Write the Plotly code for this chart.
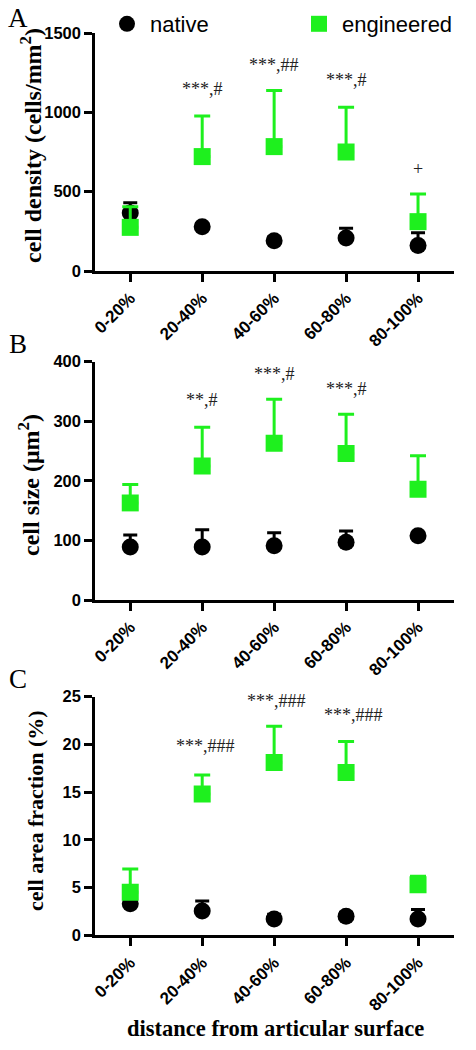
import plotly.graph_objects as go

W, H = 476, 1050

categories = ["0-20%", "20-40%", "40-60%", "60-80%", "80-100%"]

# Panel A: cell density (cells/mm^2)
a_native_mean = [365, 279, 191, 208, 160]
a_native_upper = [430, 300, 215, 269, 241]
a_eng_mean = [275, 721, 784, 750, 311]
a_eng_upper = [405, 977, 1137, 1032, 485]
a_sig_text = ["***,#", "***,##", "***,#", "+"]
a_sig_cat = ["20-40%", "40-60%", "60-80%", "80-100%"]
a_sig_y = [1147, 1299, 1204, 643]

# Panel B: cell size (um^2)
b_native_mean = [89, 89, 91, 97, 108]
b_native_upper = [109, 118, 113, 116, 113]
b_eng_mean = [163, 225, 263, 246, 186]
b_eng_upper = [194, 290, 337, 312, 242]
b_sig_text = ["**,#", "***,#", "***,#"]
b_sig_cat = ["20-40%", "40-60%", "60-80%"]
b_sig_y = [335, 379, 354]

# Panel C: cell area fraction (%)
c_native_mean = [3.3, 2.55, 1.7, 2.0, 1.7]
c_native_upper = [3.9, 3.6, 2.2, 2.4, 2.7]
c_eng_mean = [4.5, 14.8, 18.1, 17.05, 5.3]
c_eng_upper = [6.95, 16.8, 21.9, 20.3, 6.2]
c_sig_text = ["***,###", "***,###", "***,###"]
c_sig_cat = ["20-40%", "40-60%", "60-80%"]
c_sig_y = [19.85, 24.6, 23.1]

GREEN = "#1ef01e"
BLACK = "#000000"

def py(p):
    return 1 - p / H

def px(p):
    return p / W

panels = [
    dict(nm=a_native_mean, nu=a_native_upper, em=a_eng_mean, eu=a_eng_upper,
         st=a_sig_text, sc=a_sig_cat, sy=a_sig_y, top=33, bot=271, rng=[0, 1500], dt=500,
         title="cell density (cells/mm<sup>2</sup>)", letter="A", ly=18, tx=31, ts=24,
         tyc=146, xs=[0, 0, 0, 0]),
    dict(nm=b_native_mean, nu=b_native_upper, em=b_eng_mean, eu=b_eng_upper,
         st=b_sig_text, sc=b_sig_cat, sy=b_sig_y, top=361.7, bot=600, rng=[0, 400], dt=100,
         title="cell size (\u03bcm<sup>2</sup>)", letter="B", ly=344, tx=29, ts=24,
         tyc=485, xs=[0, 0, 0]),
    dict(nm=c_native_mean, nu=c_native_upper, em=c_eng_mean, eu=c_eng_upper,
         st=c_sig_text, sc=c_sig_cat, sy=c_sig_y, top=696.7, bot=935.3, rng=[0, 25], dt=5,
         title="cell area fraction (%)", letter="C", ly=679, tx=35, ts=22,
         tyc=811, xs=[3, 2, 7]),
]

fig = go.Figure()
annotations = []
tickfont = dict(family="Liberation Sans, Arial", size=16.5, color="black", weight="bold")
xtickfont = dict(family="Liberation Sans, Arial", size=17, color="black", weight="bold")
serif = "Liberation Serif, Times New Roman"

for i, p in enumerate(panels):
    k = "" if i == 0 else str(i + 1)
    xa, ya = "x" + k, "y" + k
    fig.add_trace(go.Scatter(
        x=categories, y=p["nm"], xaxis=xa, yaxis=ya, mode="markers",
        name="native", showlegend=(i == 0), legend="legend",
        marker=dict(symbol="circle", size=17, color=BLACK),
        error_y=dict(type="data", symmetric=False,
                     array=[u - m for u, m in zip(p["nu"], p["nm"])],
                     arrayminus=[0] * 5, color=BLACK, thickness=3, width=7),
    ))
    fig.add_trace(go.Scatter(
        x=categories, y=p["em"], xaxis=xa, yaxis=ya, mode="markers",
        name="engineered", showlegend=(i == 0), legend="legend2",
        marker=dict(symbol="square", size=17, color=GREEN),
        error_y=dict(type="data", symmetric=False,
                     array=[u - m for u, m in zip(p["eu"], p["em"])],
                     arrayminus=[0] * 5, color=GREEN, thickness=3, width=8),
    ))
    dom = [py(p["bot"]), py(p["top"])]
    fig.layout["xaxis" + k] = dict(
        domain=[px(95), px(454)], anchor=ya, type="category",
        categoryorder="array", categoryarray=categories, range=[-0.49, 4.5],
        showline=True, linecolor="black", linewidth=2.5, ticks="outside",
        ticklen=8, tickwidth=2.5, tickcolor="black", tickangle=-45,
        tickfont=xtickfont, showgrid=False, zeroline=False, automargin=False,
    )
    fig.layout["yaxis" + k] = dict(
        domain=dom, anchor=xa, range=p["rng"], dtick=p["dt"], tick0=0,
        showline=True, linecolor="black", linewidth=2.5, ticks="outside",
        ticklen=8, tickwidth=2.5, tickcolor="black", tickfont=tickfont,
        showgrid=False, zeroline=False, automargin=False,
    )
    for t, c, y, s in zip(p["st"], p["sc"], p["sy"], p["xs"]):
        annotations.append(dict(
            text=t, x=c, y=y, xref=xa, yref=ya, showarrow=False, xshift=s,
            yanchor="middle", xanchor="center",
            font=dict(family=serif, size=18, color="#222"),
        ))
    annotations.append(dict(
        text=p["title"], textangle=-90, x=px(p["tx"]), y=py(p["tyc"]),
        xref="paper", yref="paper", showarrow=False, xanchor="center", yanchor="middle",
        font=dict(family=serif, size=p["ts"], color="black", weight="bold"),
    ))
    annotations.append(dict(
        text=p["letter"], x=px(18), y=py(p["ly"]), xref="paper", yref="paper",
        showarrow=False, xanchor="center", yanchor="middle",
        font=dict(family=serif, size=27, color="black"),
    ))

annotations.append(dict(
    text="distance from articular surface", x=px(275), y=py(1028), xref="paper", yref="paper",
    showarrow=False, xanchor="center", yanchor="middle",
    font=dict(family=serif, size=22.5, color="black", weight="bold"),
))

legfont = dict(family="Liberation Sans, Arial", size=22, color="black")
fig.update_layout(
    width=W, height=H, margin=dict(l=0, r=0, t=0, b=0, autoexpand=False),
    paper_bgcolor="white", plot_bgcolor="white",
    annotations=annotations,
    showlegend=True,
    legend=dict(x=px(104), y=py(24), xanchor="left", yanchor="middle", itemwidth=36,
                font=legfont, bgcolor="rgba(0,0,0,0)"),
    legend2=dict(x=px(296), y=py(24), xanchor="left", yanchor="middle", itemwidth=36,
                 font=legfont, bgcolor="rgba(0,0,0,0)"),
)

fig.write_html("out.html", config={"displayModeBar": False},
               post_script="document.body.style.margin='0px';")
